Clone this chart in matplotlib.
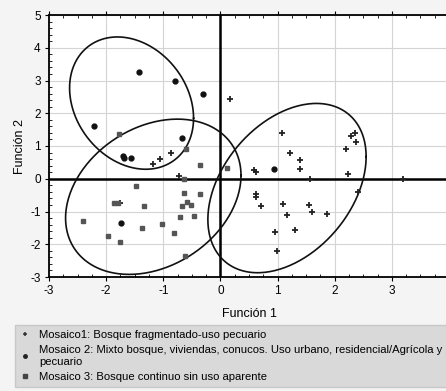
import matplotlib
matplotlib.use("Agg")
import matplotlib.pyplot as plt
from matplotlib.lines import Line2D
from matplotlib.ticker import MultipleLocator
import numpy as np

plt.rcParams['font.family'] = ['Liberation Sans', 'DejaVu Sans']
plt.rcParams['axes.unicode_minus'] = False

# Mosaico 1 (+)
m1_x = [-1.18, -1.06, -0.86, -0.72, -1.75, 0.16, 1.07, 1.21, 1.40, 1.40, 0.58, 0.62, 1.56,
        0.62, 0.62, 0.71, 1.09, 1.16, 1.55, 1.60, 1.87, 1.31, 0.96, 0.99, 2.24, 2.40, 3.19,
        2.29, 2.35, 2.37, 2.20]
m1_y = [0.45, 0.61, 0.80, 0.08, -0.73, 2.44, 1.39, 0.78, 0.57, 0.29, 0.27, 0.20, -0.02,
        -0.47, -0.55, -0.83, -0.77, -1.11, -0.80, -1.01, -1.08, -1.56, -1.64, -2.20, 0.15, -0.41, -0.02,
        1.31, 1.39, 1.11, 0.91]

# Mosaico 2 (circulos)
m2_x = [-1.43, -0.80, -0.30, -2.22, -0.68, -1.71, -1.69, -1.57, -1.74, 0.93]
m2_y = [3.27, 2.98, 2.58, 1.61, 1.25, 0.69, 0.62, 0.62, -1.36, 0.29]

# Mosaico 3 (cuadrados)
m3_x = [-1.77, -0.60, -0.64, -1.47, -0.36, 0.12, -0.64, -0.35, -1.87, -1.80, -1.34, -0.68,
        -0.59, -0.52, -0.70, -0.47, -2.40, -1.02, -1.37, -0.82, -1.97, -1.75, -0.62]
m3_y = [1.36, 0.90, 0.00, -0.22, 0.42, 0.32, -0.44, -0.47, -0.73, -0.73, -0.83, -0.83,
        -0.70, -0.80, -1.18, -1.14, -1.28, -1.38, -1.51, -1.65, -1.74, -1.94, -2.36]

# elipses: centro y matriz [[a, b], [b, c]]
ell_cx = [-1.555, -1.175, 1.165]
ell_cy = [2.31, -0.55, -0.285]
ell_a = [1.177, 2.356, 1.918]
ell_b = [-0.50, 1.00, 1.33]
ell_c = [4.08, 5.62, 6.68]

labels = ["Mosaico1: Bosque fragmentado-uso pecuario",
          "Mosaico 2: Mixto bosque, viviendas, conucos. Uso urbano, residencial/Agrícola y\npecuario",
          "Mosaico 3: Bosque continuo sin uso aparente"]

fig = plt.figure(figsize=(4.46, 3.91), dpi=100, facecolor='#f4f4f4')
ax = fig.add_axes([49/446, 1-277/391, 400/446, 262/391])
ax.set_facecolor('white')

ax.set_xlim(-3, 4)
ax.set_ylim(-3, 5)
ax.xaxis.set_major_locator(MultipleLocator(1))
ax.yaxis.set_major_locator(MultipleLocator(1))
ax.xaxis.set_minor_locator(MultipleLocator(0.25))
ax.yaxis.set_minor_locator(MultipleLocator(0.2))
ax.grid(True, which='major', color='#d4d4d4', lw=0.8, zorder=0)
ax.tick_params(which='major', direction='out', length=3, labelsize=8.5, pad=3, top=True, right=True)
ax.tick_params(which='minor', direction='in', length=2.5, top=True, right=True)
for s in ax.spines.values():
    s.set_linewidth(1.3)
ax.axhline(0, color='black', lw=1.8, zorder=2)
ax.axvline(0, color='black', lw=1.8, zorder=2)

t = np.linspace(0, 2*np.pi, 300)
for cx, cy, a, b, c in zip(ell_cx, ell_cy, ell_a, ell_b, ell_c):
    L = np.linalg.cholesky(np.array([[a, b], [b, c]]))
    pts = L @ np.vstack([np.cos(t), np.sin(t)])
    ax.plot(cx + pts[0], cy + pts[1], color='#111111', lw=1.2, zorder=3)

ax.plot(m1_x, m1_y, ls='none', marker='+', ms=4.5, mew=1.3, color='#222222', zorder=4)
ax.plot(m2_x, m2_y, ls='none', marker='o', ms=3.5, color='#111111', zorder=4)
ax.plot(m3_x, m3_y, ls='none', marker='s', ms=3.5, color='#555555', zorder=4)

ax.set_xlabel("Función 1", fontsize=9, labelpad=8)
ax.set_ylabel("Función 2", fontsize=9, labelpad=3)

handles = [Line2D([], [], ls='none', marker='+', ms=3.5, mew=1.1, color='#333333'),
           Line2D([], [], ls='none', marker='o', ms=2.5, color='#222222'),
           Line2D([], [], ls='none', marker='s', ms=2.5, color='#444444')]
leg = fig.legend(handles, labels, loc='upper left', bbox_to_anchor=(15/446, 1-325/391),
                 fontsize=8.1, frameon=True, fancybox=False, facecolor='#d9d9d9',
                 edgecolor='#c8c8c8', framealpha=1, handlelength=0.8, handletextpad=0.9,
                 labelspacing=0.45, borderpad=0.45, borderaxespad=0)

fig.savefig("out.png", dpi=100, facecolor=fig.get_facecolor())
